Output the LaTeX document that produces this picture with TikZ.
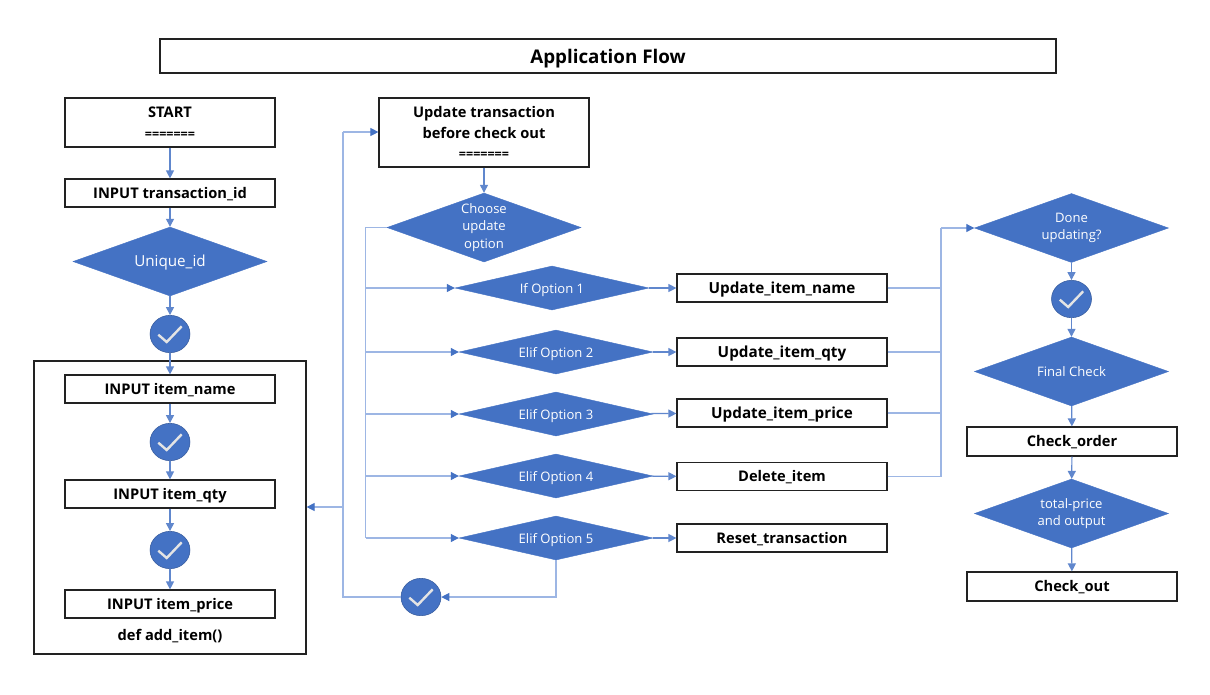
\documentclass[tikz,border=0pt]{standalone}
\usepackage{fontspec}
\setmainfont{Open Sans}
\usetikzlibrary{shapes.geometric,arrows.meta,positioning}
\definecolor{flowblue}{HTML}{4472C4}
\definecolor{linkblue}{HTML}{9DB6E4}
\definecolor{tickgrey}{HTML}{E4E4E4}
\definecolor{boxedge}{HTML}{222222}
\newcommand{\eqline}{{\fontsize{9.4}{15.5}\selectfont =======}}
\tikzset{
  x=0.75pt,y=-0.75pt,
  titlebox/.style={draw=boxedge,line width=0.9pt,fill=white,minimum width=672pt,minimum height=25.5pt,inner sep=0pt,text height=10.5pt,text depth=0pt,font=\fontsize{14.1}{16}\selectfont\bfseries},
  flowbox/.style={draw=boxedge,line width=0.9pt,fill=white,minimum width=157.5pt,inner sep=0pt,align=center,font=\fontsize{11}{15.5}\selectfont\bfseries},
  oneline/.style={text height=7.8pt,text depth=0pt},
  widerlabel/.style={font=\fontsize{11.45}{15.5}\selectfont\bfseries},
  flowdiamond/.style={diamond,fill=flowblue,draw=flowblue,line width=0.3pt,inner sep=0pt,minimum width=145.5pt,align=center,text=white,font=\fontsize{9.8}{13}\selectfont},
  tallshape/.style={flowdiamond,shape aspect=2.8,minimum height=51.75pt},
  flatshape/.style={flowdiamond,shape aspect=4.4,minimum height=33pt,text height=7.5pt,text depth=0pt},
  okdot/.style={ellipse,fill=flowblue,draw=flowblue!80!black,line width=0.4pt,minimum width=30pt,minimum height=28pt,inner sep=0pt},
  tick/.style={draw=tickgrey,line width=1.8pt},
  shortlink/.style={draw=flowblue!85!white,line width=0.9pt,-{Triangle[length=6pt,width=6pt]}},
  longlink/.style={draw=linkblue,line width=0.8pt},
  longarrow/.style={longlink,-{Triangle[length=6pt,width=6pt,color=flowblue]}},
  container/.style={draw=boxedge,line width=0.9pt,minimum width=204pt,minimum height=219.75pt,inner sep=0pt},
  caption/.style={inner sep=0pt,font=\fontsize{11}{14}\selectfont\bfseries}
}
\begin{document}
\begin{tikzpicture}
\useasboundingbox (0,0) rectangle (1210,694);
\fill[white] (0,0) rectangle (1210,694);

\node[titlebox] (title) at (608,56) {Application Flow};

% left column
\node[container] (addbox) at (170,507.5) {};
\node[flowbox,minimum height=36.75pt] (start) at (170,122.5) {START\\\eqline};
\node[flowbox,oneline,minimum height=21pt] (txid) at (170,193) {INPUT transaction\_id};
\node[tallshape,text height=7.5pt,text depth=0pt,font=\fontsize{11.4}{13}\selectfont] (uniq) at (170,261.5) {Unique\_id};
\node[okdot] (ok1) at (170,334) {};
\node[flowbox,oneline,minimum height=21pt] (iname) at (170,389) {INPUT item\_name};
\node[okdot] (ok2) at (170,442) {};
\node[flowbox,oneline,minimum height=21pt] (iqty) at (170,494) {INPUT item\_qty};
\node[okdot] (ok3) at (170,550) {};
\node[flowbox,oneline,minimum height=21pt] (iprice) at (170,604) {INPUT item\_price};
\node[caption] (deflabel) at (170,636) {def add\_item()};

% middle column
\node[flowbox,minimum height=51.75pt] (upd) at (484,132.5) {Update transaction\\before check out\\\eqline};
\node[tallshape] (choose) at (484,227.5) {Choose\\update\\option};
\node[flatshape] (o1) at (552,288) {If Option 1};
\node[flatshape] (o2) at (556,352) {Elif Option 2};
\node[flatshape] (o3) at (556,414) {Elif Option 3};
\node[flatshape] (o4) at (556,476) {Elif Option 4};
\node[flatshape] (o5) at (556,538) {Elif Option 5};
\node[flowbox,oneline,widerlabel,minimum height=21pt] (un) at (782,288) {Update\_item\_name};
\node[flowbox,oneline,widerlabel,minimum height=21pt] (uq) at (782,352) {Update\_item\_qty};
\node[flowbox,oneline,widerlabel,minimum height=21pt] (up) at (782,413) {Update\_item\_price};
\node[flowbox,oneline,minimum height=21pt] (di) at (782,476.5) {Delete\_item};
\node[flowbox,oneline,minimum height=21pt] (rt) at (782,538) {Reset\_transaction};
\node[okdot] (ok4) at (421,597) {};

% right column
\node[tallshape] (done) at (1071.5,228) {Done\\updating?};
\node[okdot] (ok5) at (1071.5,299) {};
\node[tallshape,text height=7.5pt,text depth=0pt] (final) at (1071.5,371.5) {Final Check};
\node[flowbox,oneline,minimum height=21.75pt] (chko) at (1072,441.5) {Check\_order};
\node[tallshape] (total) at (1071.5,513.5) {total-price\\and output};
\node[flowbox,oneline,minimum height=21.75pt] (chkt) at (1072,586.5) {Check\_out};

% tick marks
\foreach \k in {ok1,ok2,ok3,ok4,ok5}
  \draw[tick,shift={(\k.center)}] (-11.7,0.7) -- (-3.3,8) -- (11.7,-7.7);

% bus coordinates
\coordinate (busa) at (343,132);
\coordinate (busb) at (343,597);
\coordinate (busj) at (343,507);
\coordinate (busl) at (365.5,227.5);
\coordinate (busr) at (941,228);

% short vertical links
\draw[shortlink] (start) -- (txid);
\draw[shortlink] (txid) -- (uniq);
\draw[shortlink] (uniq) -- (ok1);
\draw[shortlink] (ok1) -- (iname);
\draw[shortlink] (iname) -- (ok2);
\draw[shortlink] (ok2) -- (iqty);
\draw[shortlink] (iqty) -- (ok3);
\draw[shortlink] (ok3) -- (iprice);
\draw[shortlink] (upd.south) -- (choose.north);
\draw[shortlink] (done) -- (ok5);
\draw[shortlink] (ok5) -- (final);
\draw[shortlink] (final) -- (chko);
\draw[shortlink] (chko) -- (total);
\draw[shortlink] (total) -- (chkt);

% option links
\draw[longlink] (choose.west) -- (busl) -- (busl |- o5.west);
\foreach \o in {o1,o2,o3,o4,o5}
  \draw[longarrow] (busl |- \o.west) -- (\o.west);
\draw[shortlink] (o1) -- (un);
\draw[shortlink] (o2) -- (uq);
\draw[shortlink] (o3) -- (up);
\draw[shortlink] (o4) -- (di);
\draw[shortlink] (o5) -- (rt);

% return loop
\draw[longarrow] (o5.south) |- (ok4.east);
\draw[longlink] (ok4.west) -- (busb) -- (busa);
\draw[longarrow] (busa) -- (upd.west |- busa);
\draw[longarrow] (busj) -- (addbox.east |- busj);

% done bus
\foreach \b in {un,uq,up,di}
  \draw[longlink] (\b.east) -- (busr |- \b.east);
\draw[longlink] (busr |- di.east) -- (busr);
\draw[longarrow] (busr) -- (done.west);
\end{tikzpicture}
\end{document}
